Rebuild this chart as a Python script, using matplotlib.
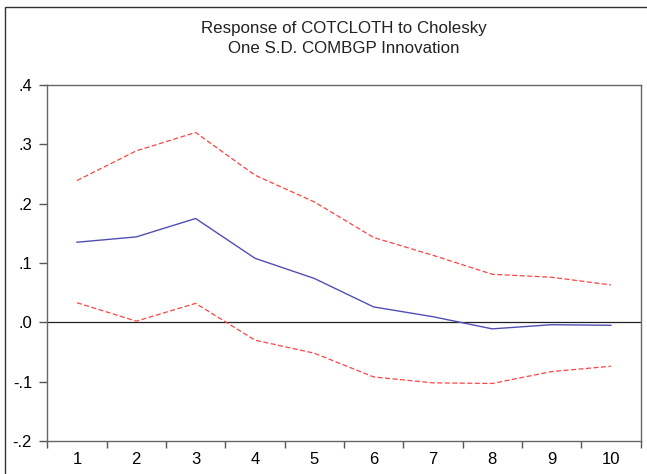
import matplotlib
matplotlib.use("Agg")
import matplotlib.pyplot as plt
from matplotlib.patches import Rectangle

plt.rcParams['font.family'] = ['Liberation Sans', 'DejaVu Sans']

# periods and impulse response with +/- 2 S.E. bands
periods = [1, 2, 3, 4, 5, 6, 7, 8, 9, 10]
response = [0.135, 0.144, 0.175, 0.108, 0.074, 0.026, 0.0095, -0.011, -0.004, -0.005]
upper = [0.239, 0.289, 0.320, 0.248, 0.203, 0.143, 0.113, 0.081, 0.076, 0.063]
lower = [0.033, 0.002, 0.032, -0.030, -0.052, -0.092, -0.102, -0.103, -0.083, -0.074]
yticks = [-0.2, -0.1, 0.0, 0.1, 0.2, 0.3, 0.4]
ylabels = ['-.2', '-.1', '.0', '.1', '.2', '.3', '.4']

fig = plt.figure(figsize=(6.47, 4.74), dpi=100)
ax = fig.add_axes([0.0731, 0.0696, 0.9169, 0.7511])

# outer frame around the whole graph
fig.patches.append(Rectangle((5 / 647, -0.05), 1.2, 1 - 7 / 474 + 0.05,
                             transform=fig.transFigure, fill=False,
                             edgecolor='#333333', linewidth=1.0))

ax.axhline(0, color='#222222', linewidth=0.9, zorder=1)
ax.plot(periods, upper, color='#ff4444', linestyle=(0, (4, 2)), linewidth=0.9)
ax.plot(periods, lower, color='#ff4444', linestyle=(0, (4, 2)), linewidth=0.9)
ax.plot(periods, response, color='#5050b4', linewidth=1.0)

ax.set_xlim(0.5, 10.5)
ax.set_ylim(-0.2, 0.4)
ax.set_yticks(yticks)
ax.set_yticklabels(ylabels)
ax.set_xticks([p - 0.5 for p in periods] + [10.5])
ax.set_xticklabels([])
ax.set_xticks(periods, minor=True)
ax.set_xticklabels([str(p) for p in periods], minor=True)
ax.tick_params(axis='x', which='minor', length=0, pad=8, labelsize=12)
ax.tick_params(axis='x', which='major', length=5, width=1, color='#555555')
ax.tick_params(axis='y', length=6, width=1, color='#555555', pad=5, labelsize=12)

for s in ax.spines.values():
    s.set_color('#666666')
    s.set_linewidth(1.0)

ax.set_title("Response of COTCLOTH to Cholesky\nOne S.D. COMBGP Innovation",
             fontsize=12.2, pad=23, linespacing=1.42, color='#222222')

fig.savefig("out.png", dpi=100)
